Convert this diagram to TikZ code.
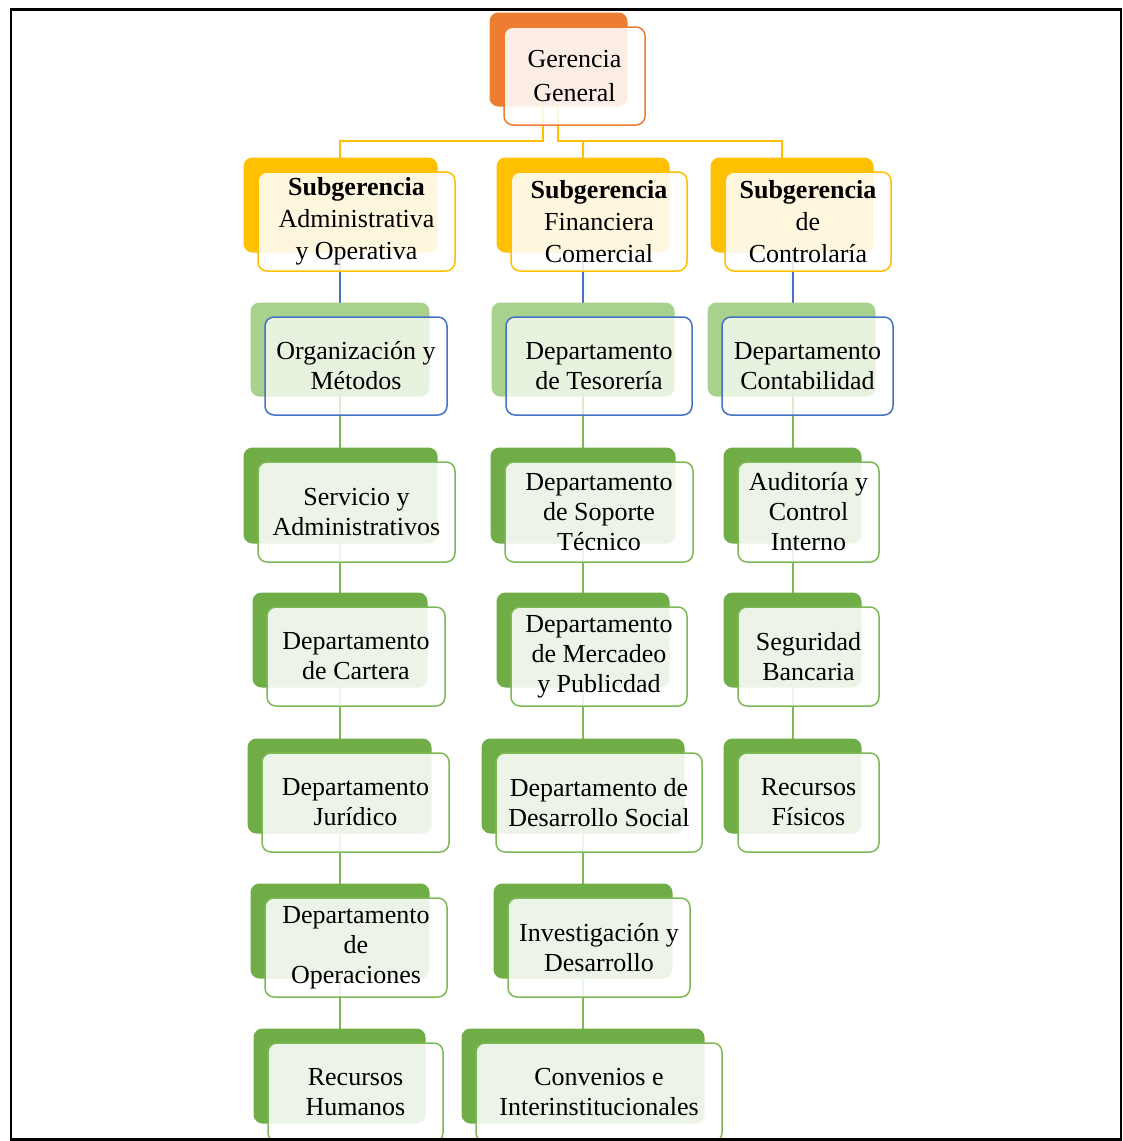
\documentclass[tikz,border=0pt]{standalone}
\usepackage{fontspec}
\setmainfont{Liberation Serif}
\usetikzlibrary{calc}
\pgfdeclarelayer{background}
\pgfsetlayers{background,main}
\definecolor{cOrange}{HTML}{ED7D31}
\definecolor{cGold}{HTML}{FFC000}
\definecolor{cLeaf}{HTML}{A9D18E}
\definecolor{cBlue}{HTML}{4472C4}
\definecolor{cGreen}{HTML}{70AD47}
\definecolor{cGreenLine}{HTML}{7DB957}
% one chart unit: solid accent panel behind, translucent framed text panel in front
\newcommand\orgbox[7]{% name, palette, cx, cy, width, height, text
  \node[#2 back, minimum width=#5-3, minimum height=#6-4] (#1b) at (#3-16,#4-16.5) {};
  \node[#2 front, minimum width=#5, minimum height=#6] (#1) at (#3,#4) {#7};
}
% vertical connector along a column axis, from one unit to the next
\newcommand\colink[4]{% style, axis, upper unit, lower unit
  \draw[#1] (#3b.center -| #2) -- (#4.north -| #2);
}
\begin{document}
\begin{tikzpicture}[x=1pt,y=-1pt,
  panel/.style={rectangle, rounded corners=9pt, inner sep=0pt, align=center,
    font=\fontsize{26}{30}\selectfont},
  boxback/.style={panel, draw=none},
  boxfront/.style={panel, line width=1.5pt, fill=white, fill opacity=0.87, text opacity=1},
  top back/.style={boxback, fill=cOrange},
  top front/.style={boxfront, draw=cOrange, font=\fontsize{26}{34}\selectfont},
  sub back/.style={boxback, fill=cGold},
  sub front/.style={boxfront, draw=cGold, font=\fontsize{26}{32}\selectfont},
  head back/.style={boxback, fill=cLeaf},
  head front/.style={boxfront, draw=cBlue, fill opacity=0.72},
  dep back/.style={boxback, fill=cGreen},
  dep front/.style={boxfront, draw=cGreenLine},
  link/.style={line width=1.3pt},
  goldlink/.style={link, draw=cGold},
  bluelink/.style={link, draw=cBlue},
  greenlink/.style={link, draw=cGreenLine}]
\useasboundingbox (0,0) rectangle (1123,1141);

% top
\orgbox{gg}{top}{574.5}{76}{141}{98}{Gerencia\\General}

% second level
\orgbox{sa}{sub}{356.5}{221.5}{197}{99}{\textbf{Subgerencia}\\Administrativa\\y Operativa}
\orgbox{sf}{sub}{599}{221.5}{176}{99}{\textbf{Subgerencia}\\Financiera\\Comercial}
\orgbox{sc}{sub}{808}{221.5}{166}{99}{\textbf{Subgerencia}\\de\\Controlaría}

% column A
\orgbox{om}{head}{356}{366}{182}{98}{Organización y\\Métodos}
\orgbox{sv}{dep}{356.5}{512}{197}{100}{Servicio y\\Administrativos}
\orgbox{dc}{dep}{356}{656.5}{178}{99}{Departamento\\de Cartera}
\orgbox{dj}{dep}{355.5}{802.5}{187}{99}{Departamento\\Jurídico}
\orgbox{do}{dep}{356}{947.5}{182}{99}{Departamento\\de\\Operaciones}
\orgbox{rh}{dep}{355.5}{1092.5}{175}{99}{Recursos\\Humanos}

% column B
\orgbox{dt}{head}{599}{366}{186}{98}{Departamento\\de Tesorería}
\orgbox{ds}{dep}{599}{512}{188}{100}{Departamento\\de Soporte\\Técnico}
\orgbox{dm}{dep}{599}{656.5}{176}{99}{Departamento\\de Mercadeo\\y Publicdad}
\orgbox{dd}{dep}{599}{802.5}{206}{99}{Departamento de\\Desarrollo Social}
\orgbox{id}{dep}{599}{947.5}{182}{99}{Investigación y\\Desarrollo}
\orgbox{ci}{dep}{599}{1092.5}{246}{99}{Convenios e\\Interinstitucionales}

% column C
\orgbox{cb}{head}{807.5}{366}{171}{98}{Departamento\\Contabilidad}
\orgbox{ai}{dep}{808.5}{512}{141}{100}{Auditoría y\\Control\\Interno}
\orgbox{sb}{dep}{808.5}{656.5}{141}{99}{Seguridad\\Bancaria}
\orgbox{rf}{dep}{808.5}{802.5}{141}{99}{Recursos\\Físicos}

% column axes and the branching bus
\coordinate (colA) at (340,0);
\coordinate (colB) at (583,0);
\coordinate (colC) at (793,0);
\coordinate (colCtop) at (782,0);
\coordinate (splitL) at (543,0);
\coordinate (splitR) at (558,0);
\coordinate (busY) at (0,141);

\begin{pgfonlayer}{background}
  \fill[white] (0,0) rectangle (1123,1141);
  % from the general management to the three sub-managements
  \draw[goldlink] (ggb.center -| splitL) |- (busY -| colA) -- (sa.north -| colA);
  \draw[goldlink] (ggb.center -| splitR) |- (busY -| colCtop) -- (sc.north -| colCtop);
  \draw[goldlink] (busY -| colB) -- (sf.north -| colB);
  % column A
  \colink{bluelink}{colA}{sa}{om}
  \colink{greenlink}{colA}{om}{sv}
  \colink{greenlink}{colA}{sv}{dc}
  \colink{greenlink}{colA}{dc}{dj}
  \colink{greenlink}{colA}{dj}{do}
  \colink{greenlink}{colA}{do}{rh}
  % column B
  \colink{bluelink}{colB}{sf}{dt}
  \colink{greenlink}{colB}{dt}{ds}
  \colink{greenlink}{colB}{ds}{dm}
  \colink{greenlink}{colB}{dm}{dd}
  \colink{greenlink}{colB}{dd}{id}
  \colink{greenlink}{colB}{id}{ci}
  % column C
  \colink{bluelink}{colC}{sc}{cb}
  \colink{greenlink}{colC}{cb}{ai}
  \colink{greenlink}{colC}{ai}{sb}
  \colink{greenlink}{colC}{sb}{rf}
\end{pgfonlayer}

% outer frame
\draw[line width=2.5pt, black] (11,9.5) rectangle (1121,1139.5);
\end{tikzpicture}
\end{document}
